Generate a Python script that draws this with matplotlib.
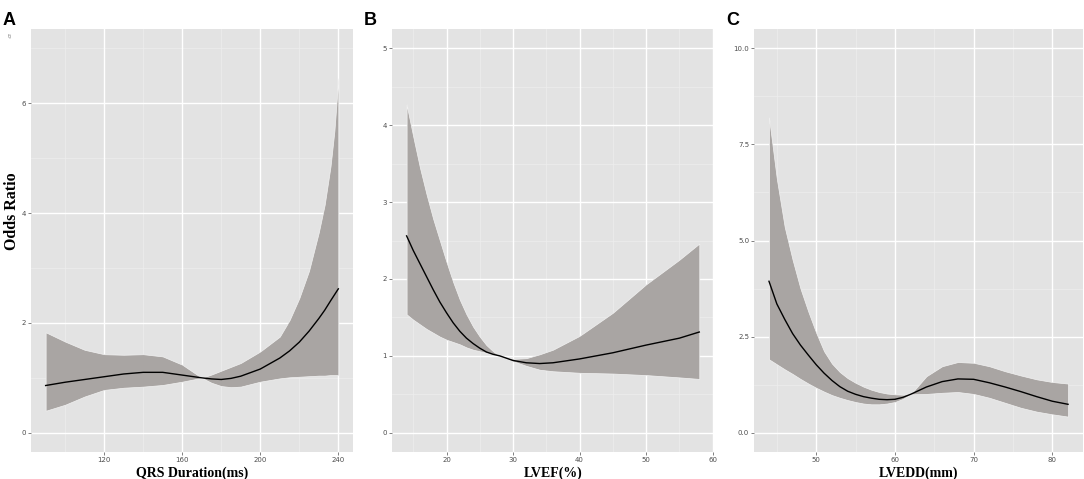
import numpy as np
from matplotlib import pyplot as plt

# panel A: QRS duration
qrs_x = [90, 100, 110, 120, 130, 140, 150, 160, 170, 175, 180, 185, 190, 200, 210, 215, 220, 225, 230, 233, 236, 238, 240]
qrs_or = [0.86, 0.92, 0.97, 1.02, 1.07, 1.10, 1.10, 1.05, 1.00, 0.98, 0.97, 0.99, 1.03, 1.16, 1.36, 1.49, 1.65, 1.85, 2.08, 2.23, 2.40, 2.51, 2.62]
qrs_hi = [1.83, 1.66, 1.51, 1.43, 1.42, 1.43, 1.39, 1.24, 1.00, 1.06, 1.13, 1.20, 1.27, 1.48, 1.75, 2.05, 2.45, 2.95, 3.65, 4.15, 4.85, 5.50, 6.45]
qrs_lo = [0.40, 0.51, 0.66, 0.78, 0.82, 0.84, 0.87, 0.93, 1.00, 0.91, 0.85, 0.83, 0.84, 0.93, 0.99, 1.01, 1.02, 1.03, 1.04, 1.04, 1.05, 1.05, 1.05]

# panel B: LVEF
ef_x = [14, 15, 16, 17, 18, 19, 20, 21, 22, 23, 24, 25, 26, 27, 28, 30, 32, 34, 36, 40, 45, 50, 55, 58]
ef_or = [2.56, 2.37, 2.20, 2.03, 1.86, 1.70, 1.56, 1.43, 1.32, 1.23, 1.16, 1.10, 1.05, 1.02, 1.00, 0.94, 0.91, 0.90, 0.91, 0.96, 1.04, 1.14, 1.23, 1.31]
ef_hi = [4.27, 3.85, 3.45, 3.10, 2.78, 2.50, 2.22, 1.96, 1.73, 1.54, 1.38, 1.25, 1.14, 1.06, 1.00, 0.96, 0.97, 1.02, 1.08, 1.26, 1.56, 1.93, 2.25, 2.46]
ef_lo = [1.54, 1.47, 1.41, 1.35, 1.30, 1.25, 1.21, 1.18, 1.15, 1.11, 1.08, 1.06, 1.04, 1.02, 1.00, 0.93, 0.87, 0.82, 0.80, 0.78, 0.77, 0.75, 0.72, 0.70]

# panel C: LVEDD
dd_x = [44, 45, 46, 47, 48, 49, 50, 51, 52, 53, 54, 55, 56, 57, 58, 59, 60, 61, 62, 64, 66, 68, 70, 72, 74, 76, 78, 80, 82]
dd_or = [3.94, 3.35, 2.95, 2.58, 2.28, 2.02, 1.77, 1.55, 1.36, 1.20, 1.08, 1.00, 0.94, 0.90, 0.87, 0.86, 0.87, 0.92, 1.00, 1.19, 1.33, 1.40, 1.39, 1.30, 1.19, 1.07, 0.94, 0.82, 0.74]
dd_hi = [8.20, 6.60, 5.35, 4.50, 3.75, 3.15, 2.60, 2.12, 1.80, 1.58, 1.42, 1.30, 1.20, 1.12, 1.06, 1.02, 1.00, 0.99, 1.00, 1.47, 1.73, 1.84, 1.82, 1.73, 1.60, 1.49, 1.39, 1.32, 1.28]
dd_lo = [1.91, 1.78, 1.65, 1.53, 1.40, 1.28, 1.17, 1.07, 0.98, 0.91, 0.85, 0.80, 0.76, 0.74, 0.74, 0.76, 0.80, 0.88, 1.00, 1.01, 1.04, 1.06, 1.01, 0.91, 0.78, 0.65, 0.55, 0.48, 0.42]

panels = [
    dict(x=qrs_x, y=qrs_or, lo=qrs_lo, hi=qrs_hi, xlab="QRS Duration(ms)", letter="A",
         xlim=(90, 240), ylim=(0, 7), xmaj=[120, 160, 200, 240], xmin=[100, 140, 180, 220],
         ymaj=[0, 2, 4, 6], ymin=[1, 3, 5, 7], ylabs=["0", "2", "4", "6"],
         rect=[0.0286, 0.0564, 0.297, 0.883]),
    dict(x=ef_x, y=ef_or, lo=ef_lo, hi=ef_hi, xlab="LVEF(%)", letter="B",
         xlim=(14, 58), ylim=(0, 5), xmaj=[20, 30, 40, 50, 60], xmin=[15, 25, 35, 45, 55],
         ymaj=[0, 1, 2, 3, 4, 5], ymin=[0.5, 1.5, 2.5, 3.5, 4.5], ylabs=["0", "1", "2", "3", "4", "5"],
         rect=[0.3616, 0.0564, 0.297, 0.883]),
    dict(x=dd_x, y=dd_or, lo=dd_lo, hi=dd_hi, xlab="LVEDD(mm)", letter="C",
         xlim=(44, 82), ylim=(0, 10), xmaj=[50, 60, 70, 80], xmin=[45, 55, 65, 75],
         ymaj=[0, 2.5, 5, 7.5, 10], ymin=[1.25, 3.75, 6.25, 8.75], ylabs=["0.0", "2.5", "5.0", "7.5", "10.0"],
         rect=[0.6956, 0.0564, 0.3035, 0.883]),
]

fig = plt.figure(figsize=(10.84, 4.79), dpi=100)
fig.patch.set_facecolor("white")

for p in panels:
    ax = fig.add_axes(p["rect"])
    ax.set_facecolor("#e3e3e3")
    # ggplot-like 5% expansion
    x0, x1 = p["xlim"]
    y0, y1 = p["ylim"]
    dx = (x1 - x0) * 0.05
    dy = (y1 - y0) * 0.05
    ax.set_xlim(x0 - dx, x1 + dx)
    ax.set_ylim(y0 - dy, y1 + dy)

    for v in p["xmin"]:
        ax.axvline(v, color="#eeeeee", lw=0.5, zorder=0.5)
    for v in p["ymin"]:
        ax.axhline(v, color="#eeeeee", lw=0.5, zorder=0.5)
    for v in p["xmaj"]:
        ax.axvline(v, color="white", lw=1.0, zorder=0.6)
    for v in p["ymaj"]:
        ax.axhline(v, color="white", lw=1.0, zorder=0.6)

    ax.fill_between(p["x"], p["lo"], p["hi"], color="#a9a5a3", edgecolor="#f2f2f2",
                    linewidth=0.5, zorder=2)
    ax.plot(p["x"], p["y"], color="black", lw=1.0, zorder=3, solid_joinstyle="round")

    ax.set_xticks(p["xmaj"])
    ax.set_yticks(p["ymaj"])
    ax.set_yticklabels(p["ylabs"])
    ax.tick_params(labelsize=5, colors="#4d4d4d", length=2, width=0.5, pad=1.5)
    for s in ax.spines.values():
        s.set_visible(False)

    ax.set_xlabel(p["xlab"], family="Liberation Serif", fontweight="bold", fontsize=10, labelpad=3)
    pos = ax.get_position()
    fig.text(pos.x0 - 0.026, 0.975, p["letter"], fontsize=13, fontweight="bold",
             family="Liberation Sans", ha="left", va="top")

fig.text(0.011, 0.56, "Odds Ratio", rotation=90, family="Liberation Serif", fontweight="bold",
         fontsize=11.5, ha="center", va="center")
fig.text(0.007, 0.923, "t)", fontsize=4, color="#888888", ha="left", va="center")

fig.savefig("out.png", dpi=100)
